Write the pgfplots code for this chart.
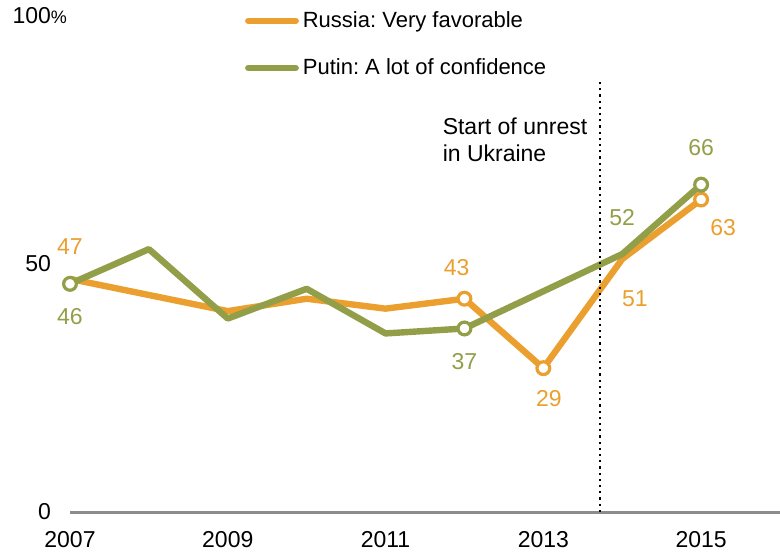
\documentclass[border=0pt]{standalone}
\usepackage{fontspec}
\setmainfont{Liberation Sans}
\usepackage{pgfplots}
\pgfplotsset{compat=1.18}
\definecolor{rusorange}{RGB}{234,159,46}
\definecolor{putgreen}{RGB}{147,158,72}
\frenchspacing
\begin{document}
\frenchspacing
\begin{tikzpicture}
\begin{axis}[name=ax, scale only axis, width=355pt, height=248pt,
  xmin=2007, xmax=2016, ymin=0, ymax=100,
  separate axis lines, axis x line*=bottom, axis y line*=left,
  y axis line style={draw=none},
  x axis line style={draw=black!45, line width=1.5pt},
  major tick length=0pt,
  xtick={2007,2009,2011,2013,2015},
  xticklabels={2007,2009,2011,2013,2015},
  ytick={0,50,100},
  yticklabels={0,50,\raisebox{-2pt}{100\rlap{\fontsize{9}{9}\selectfont\%}}},
  /pgf/number format/assume math mode=true,
  ticklabel style={font=\fontsize{11.5}{13}\selectfont},
  yticklabel style={xshift=-6pt},
  xticklabel style={yshift=-6pt},
  clip=false,
  legend style={at={(rel axis cs:0.246,1.018)}, anchor=north west, draw=none, fill=none,
    inner sep=0pt, row sep=10pt, font=\fontsize{11}{13}\selectfont\frenchspacing},
  legend cell align=left,
  legend image code/.code={\draw[line width=3.2pt, line cap=round] (1.6pt,0pt) -- (25.3pt,0pt);},
]
\addplot[rusorange, line width=3.2pt, line join=round] coordinates {
 (2007,47) (2009,40.5) (2010,43) (2011,41) (2012,43) (2013,29) (2014,51) (2015,63)};
\addlegendentry{Russia: Very favorable}
\addplot[putgreen, line width=3.2pt, line join=round] coordinates {
 (2007,46) (2008,53) (2009,39) (2010,45) (2011,36) (2012,37) (2014,52) (2015,66)};
\addlegendentry{Putin: A lot of confidence}
\addplot[forget plot, only marks, mark=*, mark size=3.2pt, mark options={draw=rusorange, fill=white, line width=1.6pt}]
 coordinates {(2012,43) (2013,29) (2015,63)};
\addplot[forget plot, only marks, mark=*, mark size=3.2pt, mark options={draw=putgreen, fill=white, line width=1.6pt}]
 coordinates {(2007,46) (2012,37) (2015,66)};
\draw[black, line width=1.1pt, dotted] (axis cs:2013.72,0) -- (axis cs:2013.72,87);
\node[anchor=north west, align=left, font=\fontsize{11.5}{13.5}\selectfont, inner sep=0pt] at (axis cs:2011.72,79.5) {Start of unrest\\in Ukraine};
\begin{scope}[every node/.style={font=\fontsize{11.5}{13}\selectfont}]
\node[text=rusorange] at (axis cs:2007,53.5) {47};
\node[text=putgreen] at (axis cs:2007,39.3) {46};
\node[text=rusorange] at (axis cs:2011.9,49.3) {43};
\node[text=putgreen] at (axis cs:2012,30.3) {37};
\node[text=rusorange] at (axis cs:2013.07,22.9) {29};
\node[text=rusorange] at (axis cs:2014.16,43.1) {51};
\node[text=putgreen] at (axis cs:2014.0,59.3) {52};
\node[text=putgreen] at (axis cs:2015.0,73.4) {66};
\node[text=rusorange] at (axis cs:2015.28,57.4) {63};
\end{scope}
\end{axis}
\pgfresetboundingbox
\path ([shift={(-35pt,-20pt)}]ax.south west) rectangle ([shift={(355pt,256pt)}]ax.south west);
\end{tikzpicture}
\end{document}
